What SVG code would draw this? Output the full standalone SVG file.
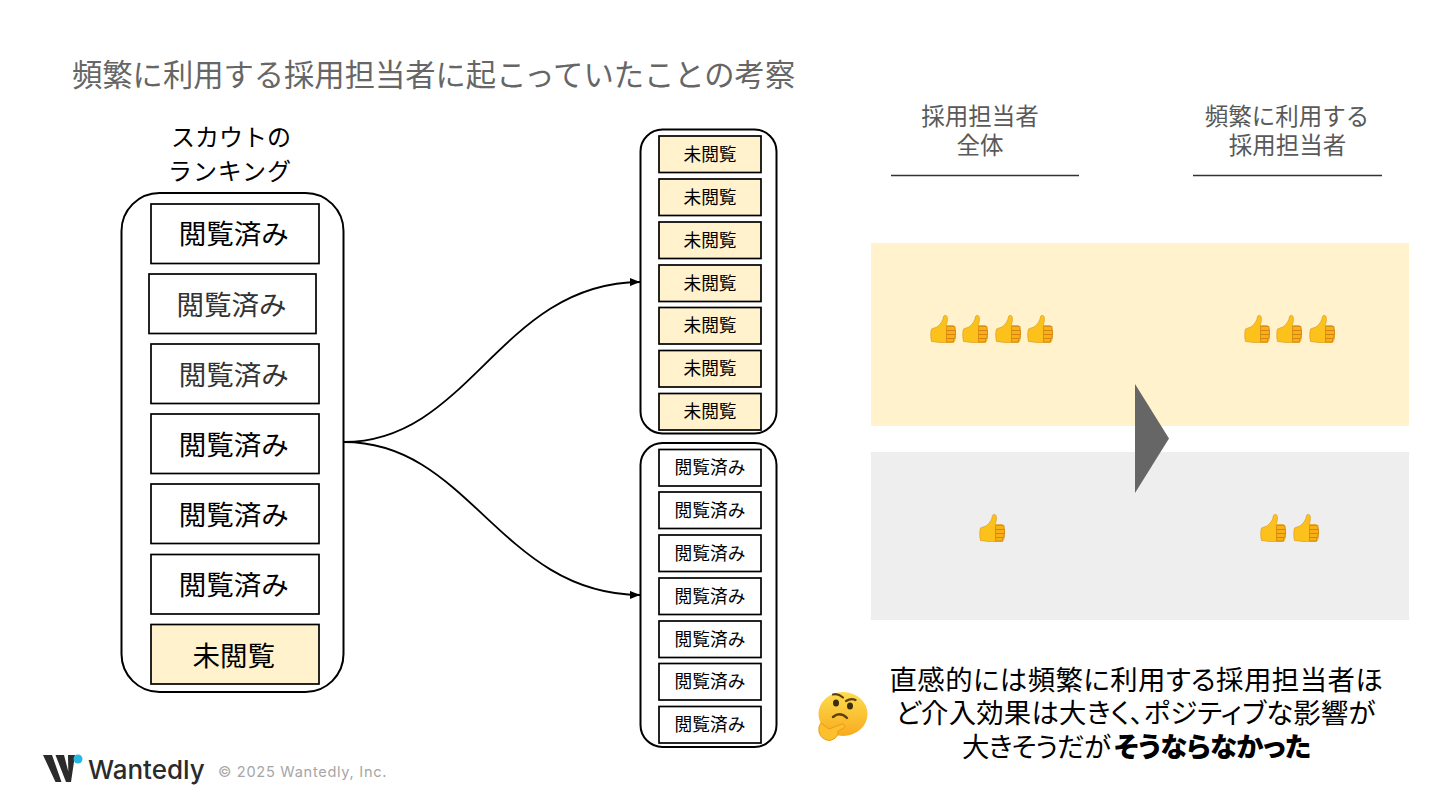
<svg xmlns="http://www.w3.org/2000/svg" width="1440" height="810" viewBox="0 0 1440 810">
<style>
text{font-family:"Noto Sans CJK JP","Noto Sans",sans-serif;text-anchor:middle}
.title{font-size:30.300px;fill:#666;text-anchor:start}
.hd{font-size:23.500px;fill:#595959}
.lb{font-size:24px;fill:#000}
.big{font-size:27.500px;fill:#000}
.soft{fill:#333}
.sm{font-size:17.700px;fill:#000}
.msg{font-size:27.400px;fill:#000}
.pa{font-feature-settings:"palt";text-anchor:start}
.b{fill:#fff;stroke:#000;stroke-width:1.700}
.y{fill:#fff2cc;stroke:#000;stroke-width:1.700}
.c{fill:#fff;stroke:#000;stroke-width:2}
.rule{stroke:#333;stroke-width:1.500}
.con{fill:none;stroke:#000;stroke-width:1.800;marker-end:url(#a)}
</style>
<defs>
<marker id="a" markerUnits="userSpaceOnUse" markerWidth="11" markerHeight="8" refX="10" refY="4" orient="auto"><path d="M0 0L10 4L0 8Z" fill="#000"/></marker>
<linearGradient id="fg" x1="0" y1="0" x2="0" y2="1"><stop offset="0" stop-color="#fddc4e"/><stop offset="1" stop-color="#f8ab1f"/></linearGradient>
<g id="t">
<path d="M0.500 14L6 12C10 9 12 5.500 12.500 1.500C13 0 15.500 0 16 1.500C17 5 16 8 15 10.500L22 10.500C25.500 10.500 25.500 27.500 22 27.500L9 27.500C6 27.500 4 26.500 0.500 26.500C-.5 22 -.5 18 0.500 14Z" fill="#fcc21b" stroke="#d9920f" stroke-width=".6"/>
<path d="M15.500 11.500H24V15.500H15.500ZM15.500 15.500H24.500V19.500H15.500ZM15.500 19.500H24V23.500H15.500ZM15.500 23.500H22.500V27H15.500Z" fill="#f9b015" stroke="#d08010" stroke-width=".7"/>
</g>
</defs>
<text class="title" x="72" y="86">頻繁に利用する採用担当者に起こっていたことの考察</text>
<g id="ranking">
<text class="lb" x="231" y="146">スカウトの</text>
<text class="lb" x="229.500" y="180" textLength="123">ランキング</text>
<rect class="c" x="121.500" y="193" width="222" height="499" rx="38"/>
<rect class="b" x="151" y="204" width="168" height="59.500"/><text class="big" x="233.800" y="244">閲覧済み</text>
<rect class="b" x="149" y="274" width="167" height="59.500"/><text class="big soft" x="231.500" y="314.500">閲覧済み</text>
<rect class="b" x="151" y="344" width="168" height="59.500"/><text class="big soft" x="233.800" y="384.500">閲覧済み</text>
<rect class="b" x="151" y="414" width="168" height="59.500"/><text class="big" x="233.800" y="454.500">閲覧済み</text>
<rect class="b" x="151" y="484" width="168" height="59.500"/><text class="big" x="233.800" y="524.500">閲覧済み</text>
<rect class="b" x="151" y="554.500" width="168" height="59.500"/><text class="big" x="233.800" y="595">閲覧済み</text>
<rect class="y" x="151" y="624.500" width="168" height="59.500"/><text class="big" x="233.800" y="665.500">未閲覧</text>
</g>
<g id="connectors">
<path class="con" d="M344 442C470 442 500 283 640 282"/>
<path class="con" d="M344 442C470 442 500 594 640 595"/>
</g>
<g id="unread">
<rect class="c" x="640.500" y="129.500" width="136" height="304" rx="22"/>
<rect class="y" x="659" y="136" width="102" height="36.500"/><text class="sm" x="710" y="161">未閲覧</text>
<rect class="y" x="659" y="179" width="102" height="36.500"/><text class="sm" x="710" y="204">未閲覧</text>
<rect class="y" x="659" y="222" width="102" height="36.500"/><text class="sm" x="710" y="246.500">未閲覧</text>
<rect class="y" x="659" y="265" width="102" height="36.500"/><text class="sm" x="710" y="289.500">未閲覧</text>
<rect class="y" x="659" y="307.500" width="102" height="36.500"/><text class="sm" x="710" y="332">未閲覧</text>
<rect class="y" x="659" y="350.500" width="102" height="36.500"/><text class="sm" x="710" y="375">未閲覧</text>
<rect class="y" x="659" y="393.500" width="102" height="36.500"/><text class="sm" x="710" y="418">未閲覧</text>
</g>
<g id="read">
<rect class="c" x="640.500" y="443" width="136" height="304" rx="22"/>
<rect class="b" x="659" y="449.500" width="102" height="36.500"/><text class="sm" x="710" y="474">閲覧済み</text>
<rect class="b" x="659" y="492" width="102" height="36.500"/><text class="sm" x="710" y="517">閲覧済み</text>
<rect class="b" x="659" y="535" width="102" height="36.500"/><text class="sm soft" x="710" y="560">閲覧済み</text>
<rect class="b" x="659" y="578" width="102" height="36.500"/><text class="sm" x="710" y="603">閲覧済み</text>
<rect class="b" x="659" y="621" width="102" height="36.500"/><text class="sm" x="710" y="646">閲覧済み</text>
<rect class="b" x="659" y="663.500" width="102" height="36.500"/><text class="sm" x="710" y="688">閲覧済み</text>
<rect class="b" x="659" y="706.500" width="102" height="36.500"/><text class="sm" x="710" y="731">閲覧済み</text>
</g>
<g id="headers">
<text class="hd" x="980" y="125">採用担当者</text>
<text class="hd" x="980" y="154">全体</text>
<text class="hd" x="1287" y="125">頻繁に利用する</text>
<text class="hd" x="1287.500" y="154">採用担当者</text>
<line class="rule" x1="891" y1="175.500" x2="1079" y2="175.500"/>
<line class="rule" x1="1193" y1="175.500" x2="1382" y2="175.500"/>
</g>
<g id="bands">
<rect x="871" y="243" width="538" height="183" fill="#fff2cc"/>
<rect x="871" y="452" width="538" height="168" fill="#eee"/>
<path d="M1135 384L1169 438.500L1135 493Z" fill="#666"/>
</g>
<g id="thumbs">
<use href="#t" x="931" y="315"/><use href="#t" x="963" y="315"/><use href="#t" x="996" y="315"/><use href="#t" x="1028" y="315"/>
<use href="#t" x="1245" y="315"/><use href="#t" x="1277" y="315"/><use href="#t" x="1310" y="315"/>
<use href="#t" x="980" y="514"/><use href="#t" x="1261" y="514"/><use href="#t" x="1294" y="514"/>
</g>
<g id="thinking">
<ellipse cx="843" cy="714" rx="24.500" ry="22" fill="url(#fg)"/>
<path d="M833 694.500Q838 693 843 697.500M846 701Q851 698 855.500 700" fill="none" stroke="#5d3f12" stroke-width="2.200" stroke-linecap="round"/>
<ellipse cx="836" cy="703" rx="3" ry="3.500" fill="#3c2c10"/><ellipse cx="850" cy="706" rx="3" ry="3.500" fill="#3c2c10"/>
<path d="M833 717Q840 711 847 718" fill="none" stroke="#5d3f12" stroke-width="2.400" stroke-linecap="round"/>
<path d="M819 732Q818 726 821 723Q825 726 829 729L842 724Q846 724 844 728L838 731Q839 738 830 740.500Q821 740 819 732Z" fill="#fbc02d" stroke="#ef9a13" stroke-width="1"/>
</g>
<g id="message">
<text class="msg pa"><tspan x="889.500" y="690" letter-spacing=".45">直感的には頻繁に利用する採用担当者ほ</tspan><tspan x="895.500" y="723" letter-spacing=".2">ど介入効果は大きく、ポジティブな影響が</tspan><tspan x="962" y="757" letter-spacing="-.9">大きそうだが</tspan><tspan x="1114" y="757" font-weight="900" letter-spacing="-.5">そうならなかった</tspan></text>
</g>
<g id="logo">
<path d="M43 755H52L61.500 782H55.500ZM55.500 755H64L71 782H66ZM68 755H75L71 782H68.500Z" fill="#2b2b2b"/>
<circle cx="78" cy="759" r="4.500" fill="#29b6e0"/>
<text x="88" y="779" style="text-anchor:start;font-family:Inter,Lato,sans-serif;font-size:26px;font-weight:500;fill:#2b2b2b">Wantedly</text>
<text x="218" y="777" style="text-anchor:start;font-family:Inter,'Noto Sans',sans-serif;font-size:14.600px;letter-spacing:.7px;fill:#a6a6a6">© 2025 Wantedly, Inc.</text>
</g>
</svg>
